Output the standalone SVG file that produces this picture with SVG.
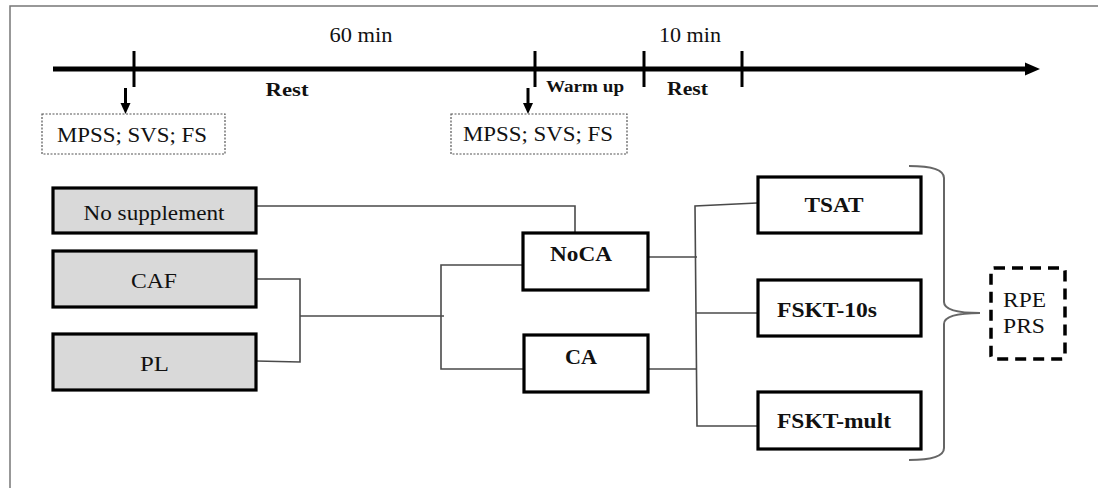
<svg xmlns="http://www.w3.org/2000/svg" width="1098" height="488" viewBox="0 0 1098 488">
<defs>
<style>
text{font-family:"Liberation Serif","Times New Roman",serif;fill:#111}
.b{font-weight:bold}
.g{fill:#d9d9d9;stroke:#000;stroke-width:3.2}
.w{fill:#fff;stroke:#000;stroke-width:3.2}
.c{fill:none;stroke:#4a4a4a;stroke-width:1.6}
.tk{stroke:#000;stroke-width:3}
.m{fill:#fff;stroke:#555;stroke-width:1.2;stroke-dasharray:2 1.5}
</style>
</defs>
<rect width="1098" height="488" fill="#fff"/>
<path d="M10,488 V6 H1098" fill="none" stroke="#777" stroke-width="1.5"/>
<g id="timeline">
<line x1="53" y1="69" x2="1027" y2="69" stroke="#000" stroke-width="5"/>
<polygon points="1025,62.5 1040,69 1025,75.5" fill="#000"/>
<line class="tk" x1="134" y1="51" x2="134" y2="87"/>
<line class="tk" x1="535" y1="51" x2="535" y2="87"/>
<line class="tk" x1="644" y1="51" x2="644" y2="87"/>
<line class="tk" x1="742" y1="51" x2="742" y2="87"/>
<text x="361" y="41.5" font-size="20" text-anchor="middle" textLength="63" lengthAdjust="spacingAndGlyphs">60 min</text>
<text x="690" y="41.5" font-size="20" text-anchor="middle" textLength="62" lengthAdjust="spacingAndGlyphs">10 min</text>
<text class="b" x="287" y="95.5" font-size="19" text-anchor="middle" textLength="43" lengthAdjust="spacingAndGlyphs">Rest</text>
<text class="b" x="585" y="91.5" font-size="16" text-anchor="middle" textLength="78" lengthAdjust="spacingAndGlyphs">Warm up</text>
<text class="b" x="687.5" y="95" font-size="19" text-anchor="middle" textLength="41" lengthAdjust="spacingAndGlyphs">Rest</text>
<line x1="125.5" y1="88" x2="125.5" y2="104" stroke="#000" stroke-width="3"/>
<polygon points="120.5,103 130.5,103 125.5,114" fill="#000"/>
<line x1="528" y1="88" x2="528" y2="104" stroke="#000" stroke-width="3"/>
<polygon points="523,103 533,103 528,114" fill="#000"/>
</g>
<g id="mpss1">
<rect class="m" x="42" y="114" width="183" height="40"/>
<text x="57" y="141.5" font-size="20" textLength="150" lengthAdjust="spacingAndGlyphs">MPSS; SVS; FS</text>
</g>
<g id="mpss2">
<rect class="m" x="451" y="114" width="176" height="40"/>
<text x="463" y="141" font-size="20" textLength="150" lengthAdjust="spacingAndGlyphs">MPSS; SVS; FS</text>
</g>
<g id="connectors">
<path class="c" d="M256,206 H575 V232"/>
<path class="c" d="M256,279 H300 V362 L256,361"/>
<path class="c" d="M300,316 H444"/>
<path class="c" d="M523,265 H441 V369 H524"/>
<path class="c" d="M648,257 H697"/>
<path class="c" d="M648,369 H697"/>
<path class="c" d="M757,203 L695,206 L697,426 H757"/>
<path class="c" d="M696,313 H757"/>
</g>
<g id="nosupp">
<rect class="g" x="53" y="188" width="203" height="45"/>
<text x="154" y="220" font-size="22" text-anchor="middle" textLength="141" lengthAdjust="spacingAndGlyphs">No supplement</text>
</g>
<g id="caf">
<rect class="g" x="53" y="251" width="203" height="56"/>
<text x="154" y="288" font-size="22" text-anchor="middle" textLength="46" lengthAdjust="spacingAndGlyphs">CAF</text>
</g>
<g id="pl">
<rect class="g" x="53" y="334" width="203" height="56"/>
<text x="154.5" y="371" font-size="22" text-anchor="middle" textLength="29" lengthAdjust="spacingAndGlyphs">PL</text>
</g>
<g id="noca">
<rect class="w" x="523" y="233" width="125" height="57"/>
<text class="b" x="581" y="261" font-size="22" text-anchor="middle" textLength="62" lengthAdjust="spacingAndGlyphs">NoCA</text>
</g>
<g id="ca">
<rect class="w" x="524" y="335" width="124" height="57"/>
<text class="b" x="581" y="364" font-size="22" text-anchor="middle" textLength="32" lengthAdjust="spacingAndGlyphs">CA</text>
</g>
<g id="tsat">
<rect class="w" x="758" y="177" width="163" height="56"/>
<text class="b" x="834" y="212" font-size="22" text-anchor="middle" textLength="59" lengthAdjust="spacingAndGlyphs">TSAT</text>
</g>
<g id="fskt10">
<rect class="w" x="758" y="280" width="163" height="56"/>
<text class="b" x="777" y="317" font-size="22" textLength="100" lengthAdjust="spacingAndGlyphs">FSKT-10s</text>
</g>
<g id="fsktmult">
<rect class="w" x="758" y="392" width="163" height="57"/>
<text class="b" x="777" y="428" font-size="22" textLength="114" lengthAdjust="spacingAndGlyphs">FSKT-mult</text>
</g>
<g id="brace">
<path d="M909,166 Q944,166 944,178 V302 Q944,313 980,313 Q944,313 944,324 V448 Q944,460 909,460" fill="none" stroke="#666" stroke-width="2"/>
</g>
<g id="rpe">
<rect x="991" y="268" width="74" height="91" rx="3" fill="none" stroke="#000" stroke-width="3.5" stroke-dasharray="11 7"/>
<text x="1003" y="306.5" font-size="20" textLength="43" lengthAdjust="spacingAndGlyphs">RPE</text>
<text x="1003" y="333" font-size="20" textLength="42" lengthAdjust="spacingAndGlyphs">PRS</text>
</g>
</svg>
